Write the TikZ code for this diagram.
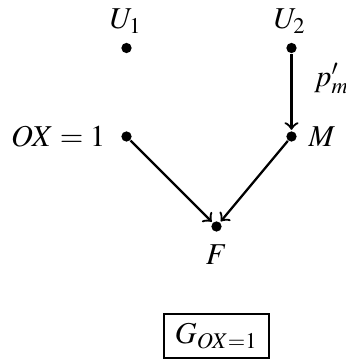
\documentclass[tikz,border=0pt]{standalone}
\usepackage{mathptmx}
\begin{document}
\begin{tikzpicture}[x=0.33pt,y=-0.33pt,
  dotnode/.style={circle,fill=black,inner sep=0pt,minimum size=3.4pt},
  lbl/.style={inner sep=0pt},
  arr/.style={->,line width=0.75pt,shorten >=0.3pt}]
\useasboundingbox (0,0) rectangle (346,364);
\node[dotnode] (u1) at (126.5,48) {};
\node[dotnode] (u2) at (291.5,48) {};
\node[dotnode] (ox) at (126.5,136.5) {};
\node[dotnode] (m) at (291.5,136.5) {};
\node[dotnode] (f) at (216.5,226.5) {};
\node[lbl] (lu1) at (126,21) {$U_1$};
\node[lbl] (lu2) at (290,21) {$U_2$};
\node[lbl,anchor=east] (lox) at (106,137) {$OX=1$};
\node[lbl,anchor=west] (lm) at (308,137) {$M$};
\node[lbl] (lf) at (216.5,255) {$F$};
\draw[arr] (u2) -- node[lbl,anchor=west,xshift=7.1pt,yshift=4.6pt] {$p'_m$} (m);
\draw[arr] (ox) -- (f);
\draw[arr] (m) -- (f);
\node[draw,line width=0.45pt,minimum width=34.6pt,minimum height=14.5pt,inner sep=0pt] (g) at (216.5,336) {$G_{OX=1}$};
\end{tikzpicture}
\end{document}
